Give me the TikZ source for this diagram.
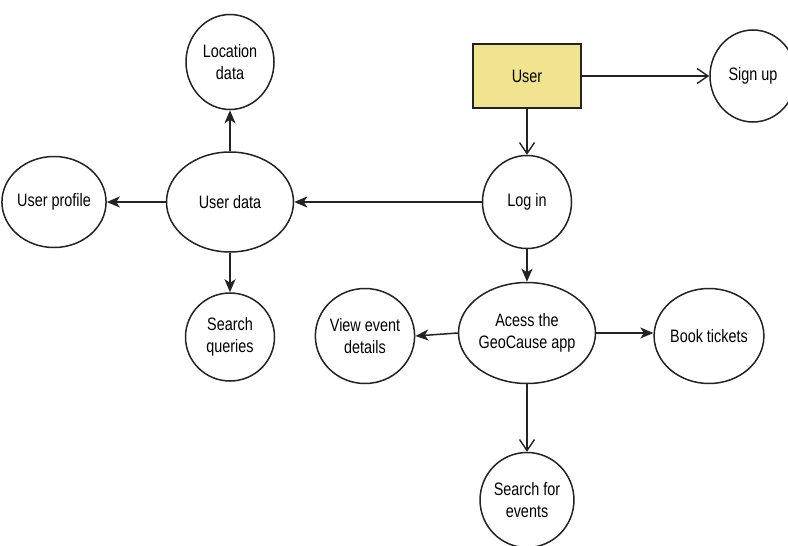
\documentclass[tikz,border=0pt]{standalone}
\usepackage{fontspec}
\setmainfont{Liberation Sans}[FakeStretch=0.8]
\usetikzlibrary{shapes.geometric,arrows.meta}
\definecolor{useryellow}{RGB}{240,228,145}
\definecolor{linegray}{RGB}{35,35,35}
\begin{document}
\begin{tikzpicture}[x=1pt,y=-1pt,
  bub/.style={ellipse,draw=linegray,line width=1.5pt,inner sep=0pt,align=center,
    font=\fontsize{18}{21.6}\selectfont},
  boxnode/.style={rectangle,draw=linegray,line width=1.5pt,fill=useryellow,
    minimum width=108pt,minimum height=64pt,inner sep=0pt,
    font=\fontsize{18}{21.6}\selectfont},
  solidarr/.style={draw=linegray,line width=1.5pt,-{Stealth[length=13pt,width=11pt,inset=3.5pt]}},
  openarr/.style={draw=linegray,line width=1.5pt,-{Straight Barb[length=11pt,width=15pt,line width=1.4pt]}}
]
\useasboundingbox (0,0) rectangle (788,546);
\fill[white] (0,0) rectangle (788,546);

\node[boxnode] (user) at (527,76) {User};
\node[bub,minimum width=86pt,minimum height=92pt] (signup) at (753,76) {Sign up};
\node[bub,minimum width=89pt,minimum height=93pt] (login) at (527,202) {Log in};
\node[bub,minimum width=127pt,minimum height=100pt] (udata) at (230,202) {User data};
\node[bub,minimum width=88pt,minimum height=95pt] (loc) at (230,62) {Location\\data};
\node[bub,minimum width=87pt,minimum height=91pt] (uprof) at (54,202) {User profile};
\node[bub,minimum width=89pt,minimum height=88pt] (squery) at (230,337) {Search\\queries};
\node[bub,minimum width=127pt,minimum height=101pt] (acc) at (527,333) {Acess the\\GeoCause app};
\node[bub,minimum width=89pt,minimum height=95pt] (view) at (365,336) {View event\\details};
\node[bub,minimum width=88pt,minimum height=95pt] (book) at (709,336) {Book tickets};
\node[bub,minimum width=89pt,minimum height=95pt] (sevents) at (527,500) {Search for\\events};

\draw[openarr] (user.east) -- (signup.west);
\draw[openarr] (user.south) -- (login.north);
\draw[solidarr] (login.west) -- (udata.east);
\draw[solidarr] (udata.north) -- (loc.south);
\draw[solidarr] (udata.west) -- (uprof.east);
\draw[solidarr] (udata.south) -- (squery.north);
\draw[solidarr] (login.south) -- (acc.north);
\draw[solidarr] (acc.west) -- (view.east);
\draw[solidarr] (acc.east) -- (acc.east -| book.west);
\draw[openarr] (acc.south) -- (sevents.north);
\end{tikzpicture}
\end{document}
